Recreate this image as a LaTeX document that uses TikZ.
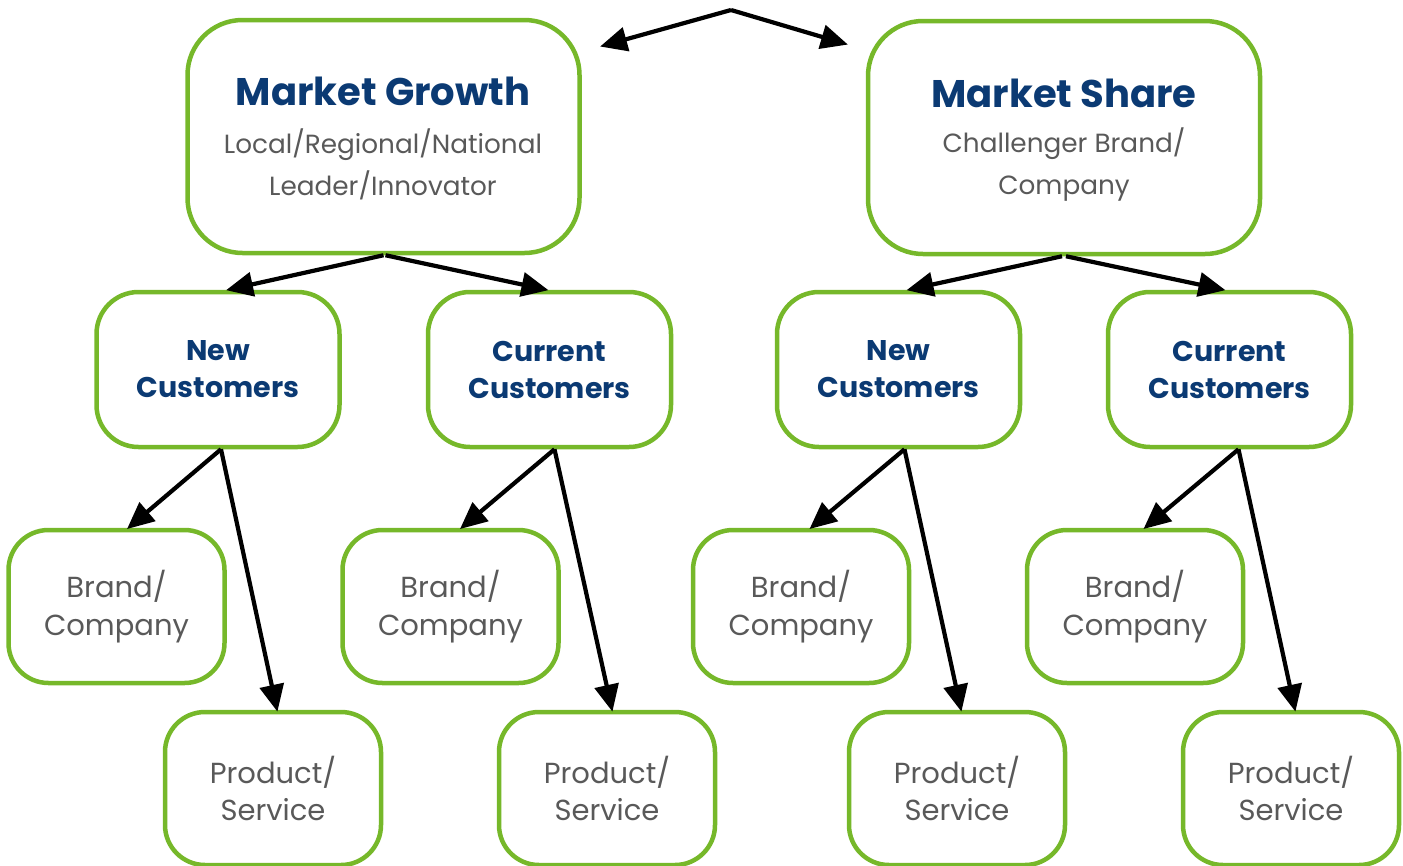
\documentclass[tikz,border=0pt]{standalone}
\usepackage{fontspec}
\setmainfont{Poppins}
\usetikzlibrary{arrows.meta}
\definecolor{boxgreen}{HTML}{76B82A}
\definecolor{navy}{HTML}{0B3A73}
\definecolor{greytxt}{HTML}{595959}
\tikzset{
  base/.style={draw=boxgreen, line width=4.5pt, fill=white, align=center, inner sep=0pt},
  bigbox/.style={base, rounded corners=55pt, minimum width=392pt, minimum height=233pt},
  midbox/.style={base, rounded corners=42pt, minimum width=243pt, minimum height=155pt,
     font=\fontsize{28.5}{37}\selectfont\bfseries, text=navy},
  smallbox/.style={base, rounded corners=40pt, minimum width=216pt, minimum height=153pt,
     font=\fontsize{29}{37.5}\selectfont, text=greytxt},
  conn/.style={line width=4.2pt, -{Triangle[length=27pt,width=24pt]}, shorten >=-2pt},
}
\begin{document}
\begin{tikzpicture}[x=1pt,y=-1pt]
\useasboundingbox (0,0) rectangle (1403,865);
% top boxes
\node[bigbox] (mg) at (383.5,136.5) {};
\node[font=\fontsize{38.5}{40}\selectfont\bfseries, text=navy] (mgt) at (383,91) {Market Growth};
\node[font=\fontsize{26.3}{42}\selectfont, text=greytxt, align=center] (mgs) at (383,164) {Local/Regional/National\\Leader/Innovator};
\node[bigbox] (ms) at (1064,137.5) {};
\node[font=\fontsize{38.5}{40}\selectfont\bfseries, text=navy] (mst) at (1064,93) {Market Share};
\node[font=\fontsize{26.3}{42}\selectfont, text=greytxt, align=center] (mss) at (1064,165) {Challenger Brand/\\Company};
% apex
\coordinate (apex) at (731,10);
\draw[conn] (apex) -- (602,46);
\draw[conn] (apex) -- (846,44);
% mid boxes
\node[midbox] (n1) at (218,369.5) {New\\Customers};
\node[midbox] (c1) at (549.5,369.5) {Current\\Customers};
\node[midbox] (n2) at (898.5,369.5) {New\\Customers};
\node[midbox] (c2) at (1229.5,369.5) {Current\\Customers};
% brand boxes
\node[smallbox] (b1) at (116.5,606.5) {Brand/\\Company};
\node[smallbox] (b2) at (450.5,606.5) {Brand/\\Company};
\node[smallbox] (b3) at (801,606.5) {Brand/\\Company};
\node[smallbox] (b4) at (1135,606.5) {Brand/\\Company};
% product boxes
\node[smallbox] (p1) at (273,788.5) {Product/\\Service};
\node[smallbox] (p2) at (607,788.5) {Product/\\Service};
\node[smallbox] (p3) at (957,788.5) {Product/\\Service};
\node[smallbox] (p4) at (1291,788.5) {Product/\\Service};
% connectors
\draw[conn] ([xshift=0pt]mg.south) -- ([xshift=10pt]n1.north);
\draw[conn] ([xshift=2pt]mg.south) -- ([xshift=-3pt]c1.north);
\draw[conn] ([xshift=-2pt]ms.south) -- ([xshift=10pt]n2.north);
\draw[conn] ([xshift=2pt]ms.south) -- ([xshift=-6pt]c2.north);
\draw[conn] ([xshift=3pt]n1.south) -- ([xshift=12pt]b1.north);
\draw[conn] ([xshift=3pt]n1.south) -- ([xshift=4pt]p1.north);
\draw[conn] ([xshift=5pt]c1.south) -- ([xshift=11pt]b2.north);
\draw[conn] ([xshift=5pt]c1.south) -- ([xshift=5pt]p2.north);
\draw[conn] ([xshift=6pt]n2.south) -- ([xshift=10pt]b3.north);
\draw[conn] ([xshift=6pt]n2.south) -- ([xshift=4pt]p3.north);
\draw[conn] ([xshift=9pt]c2.south) -- ([xshift=10pt]b4.north);
\draw[conn] ([xshift=9pt]c2.south) -- ([xshift=4pt]p4.north);
\end{tikzpicture}
\end{document}
